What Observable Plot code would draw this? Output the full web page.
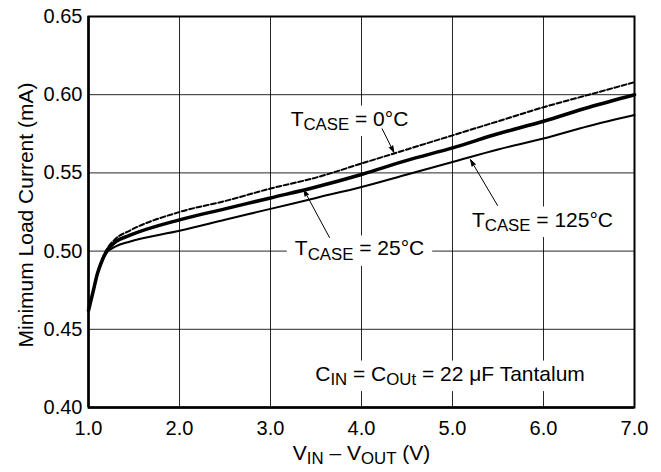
<!DOCTYPE html>
<html><head><meta charset="utf-8">
<script src="https://cdn.jsdelivr.net/npm/d3@7"></script>
<script src="https://cdn.jsdelivr.net/npm/@observablehq/plot@0.6"></script>
<style>
body{margin:0;background:#fff;}
#chart svg{display:block;}
</style></head><body><div id="chart"></div>
<script>
// ---- data ----
const vinVout     = [1.00, 1.05, 1.10, 1.15, 1.20, 1.30, 1.45, 2.0, 2.5, 3.0, 3.5, 4.0, 4.5, 5.0, 5.5, 6.0, 6.5, 7.0];
const current0C   = [0.462, 0.474, 0.486, 0.495, 0.501, 0.508, 0.513, 0.525, 0.532, 0.540, 0.547, 0.556, 0.565, 0.574, 0.583, 0.592, 0.600, 0.608];
const current25C  = [0.462, 0.474, 0.486, 0.494, 0.500, 0.506, 0.510, 0.520, 0.527, 0.534, 0.541, 0.549, 0.558, 0.566, 0.575, 0.583, 0.592, 0.600];
const current125C = [0.462, 0.474, 0.486, 0.494, 0.499, 0.503, 0.506, 0.513, 0.520, 0.527, 0.534, 0.541, 0.549, 0.557, 0.565, 0.572, 0.580, 0.587];

const xTicks = [1.0, 2.0, 3.0, 4.0, 5.0, 6.0, 7.0];
const yTicks = [0.40, 0.45, 0.50, 0.55, 0.60, 0.65];

const xTitle = "V_{IN} – V_{OUT} (V)";
const yTitle = "Minimum Load Current (mA)";

// annotations
const noteText = ["T_{CASE} = 0°C", "T_{CASE} = 25°C", "T_{CASE} = 125°C", "C_{IN} = C_{OUt} = 22 μF Tantalum"];
const noteX    = [3.868, 3.978, 5.989, 4.973];
const noteY    = [0.5846, 0.5015, 0.520, 0.4215];

const arrowX1 = [4.227, 3.648, 5.495];
const arrowY1 = [0.5782, 0.5087, 0.5292];
const arrowX2 = [4.355, 3.366, 5.198];
const arrowY2 = [0.5632, 0.5392, 0.5584];

// ---- tables built from the arrays ----
const s0   = vinVout.map((v, i) => ({v, c: current0C[i]}));
const s25  = vinVout.map((v, i) => ({v, c: current25C[i]}));
const s125 = vinVout.map((v, i) => ({v, c: current125C[i]}));
const notes  = noteText.map((t, i) => ({t, x: noteX[i], y: noteY[i]}));
const arrows = arrowX1.map((x1, i) => ({x1, y1: arrowY1[i], x2: arrowX2[i], y2: arrowY2[i]}));

const FONT = "'Liberation Sans', Arial, Helvetica, sans-serif";

const chart = Plot.plot({
  width: 661, height: 472,
  marginLeft: 88, marginRight: 27, marginTop: 16, marginBottom: 65,
  style: {fontFamily: FONT, fontSize: "20px", color: "black", background: "white", overflow: "visible"},
  x: {domain: [1, 7], label: null},
  y: {domain: [0.40, 0.65], label: null},
  marks: [
    Plot.gridX(xTicks, {stroke: "#000", strokeOpacity: 0.85, strokeWidth: 1}),
    Plot.gridY(yTicks, {stroke: "#000", strokeOpacity: 0.85, strokeWidth: 1}),
    Plot.axisX(xTicks, {tickSize: 0, tickPadding: 13, tickFormat: d => d.toFixed(1), fontSize: 20, label: null}),
    Plot.axisY(yTicks, {tickSize: 0, tickPadding: 6, tickFormat: d => d.toFixed(2), fontSize: 20, label: null}),
    Plot.text(notes, {x: "x", y: "y", text: "t", fontSize: 21, textAnchor: "middle", lineAnchor: "middle", fill: "black"}),
    Plot.line(s125, {x: "v", y: "c", stroke: "black", strokeWidth: 2, curve: "monotone-x"}),
    Plot.line(s25,  {x: "v", y: "c", stroke: "black", strokeWidth: 3.5, curve: "monotone-x"}),
    Plot.line(s0,   {x: "v", y: "c", stroke: "black", strokeWidth: 2, strokeDasharray: "5,2.5", curve: "monotone-x"}),
    Plot.arrow(arrows, {x1: "x1", y1: "y1", x2: "x2", y2: "y2", stroke: "black", fill: "black", strokeWidth: 1, headLength: 10, headAngle: 35}),
    Plot.frame({stroke: "black", strokeWidth: 2}),
    Plot.ruleX([1], {stroke: "black", strokeWidth: 2.5}),
    Plot.ruleY([0.40], {stroke: "black", strokeWidth: 2.5}),
    Plot.text([xTitle], {frameAnchor: "bottom", dy: 52, fontSize: 21, fill: "black", textAnchor: "middle"}),
    Plot.text([yTitle], {frameAnchor: "left", dx: -62, dy: 3, rotate: -90, fontSize: 21, fill: "black", textAnchor: "middle", lineAnchor: "middle"})
  ]
});

document.getElementById("chart").appendChild(chart);

// rich text: subscripts written as _{...}
function richify(el) {
  const str = el.textContent;
  if (!str.includes("_{")) return false;
  const parts = str.split(/(_\{[^}]*\})/).filter(p => p.length);
  while (el.firstChild) el.removeChild(el.firstChild);
  let shifted = false;
  for (const p of parts) {
    const ts = document.createElementNS("http://www.w3.org/2000/svg", "tspan");
    if (p.startsWith("_{")) {
      ts.textContent = p.slice(2, -1);
      ts.setAttribute("font-size", "80%");
      ts.setAttribute("dy", "4.5");
      shifted = true;
    } else {
      ts.textContent = p;
      if (shifted) { ts.setAttribute("dy", "-4.5"); shifted = false; }
    }
    el.appendChild(ts);
  }
  return true;
}

const svg = d3.select(chart);
svg.selectAll("text").each(function () { richify(this); });

// white boxes behind the annotation labels (they interrupt the grid in the reference)
const noteSet = new Set(noteText.map(t => t.replace(/_\{([^}]*)\}/g, "$1")));
svg.selectAll("text").each(function () {
  if (!noteSet.has(this.textContent)) return;
  const b = this.getBBox();
  const r = document.createElementNS("http://www.w3.org/2000/svg", "rect");
  r.setAttribute("x", b.x - 8);
  r.setAttribute("y", b.y - 1);
  r.setAttribute("width", b.width + 16);
  r.setAttribute("height", b.height + 3);
  r.setAttribute("fill", "white");
  const tr = this.getAttribute("transform");
  if (tr) r.setAttribute("transform", tr);
  this.parentNode.insertBefore(r, this);
});
</script>
</body></html>
